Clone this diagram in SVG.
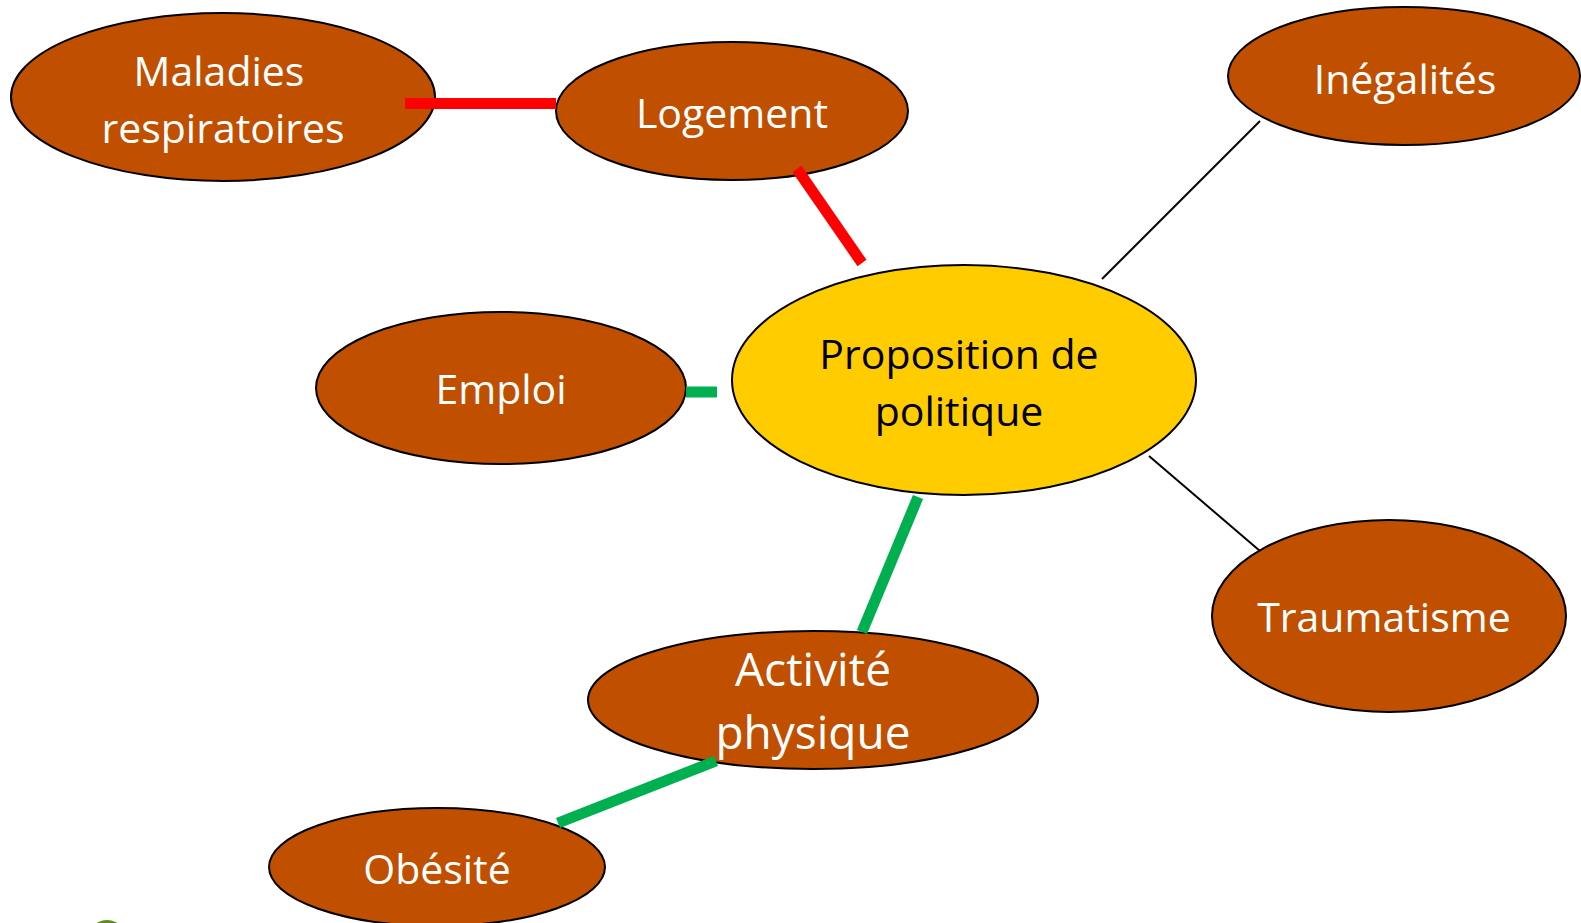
<svg xmlns="http://www.w3.org/2000/svg" width="1581" height="923" viewBox="0 0 1581 923">
<style>
.n{fill:#C04F00;stroke:#000;stroke-width:2}
.c{fill:#FFCC00;stroke:#000;stroke-width:2}
.t{font-family:"Open Sans","Noto Sans",sans-serif;font-size:41px;fill:#fff;text-anchor:middle}
.tc{fill:#000}
.big{font-size:46px}
.red{stroke:#FF0000;stroke-width:11;fill:none}
.grn{stroke:#00B050;stroke-width:11;fill:none}
.blk{stroke:#000;stroke-width:2;fill:none}
</style>
<rect width="1581" height="923" fill="#fff"/>
<ellipse cx="107" cy="945" rx="22" ry="25" fill="#5E8A22"/>
<g id="maladies"><ellipse class="n" cx="223" cy="97" rx="212" ry="84"/><text class="t" x="219" y="86">Maladies</text><text class="t" x="223" y="143">respiratoires</text></g>
<g id="logement"><ellipse class="n" cx="732" cy="111" rx="176" ry="69"/><text class="t" x="732" y="128">Logement</text></g>
<g id="inegalites"><ellipse class="n" cx="1404" cy="76" rx="176" ry="69"/><text class="t" x="1405" y="94">Inégalités</text></g>
<g id="emploi"><ellipse class="n" cx="501" cy="388" rx="185" ry="76"/><text class="t" x="501" y="404">Emploi</text></g>
<g id="proposition"><ellipse class="c" cx="964" cy="380" rx="232" ry="115"/><text class="t tc" x="959" y="369">Proposition de</text><text class="t tc" x="959" y="426">politique</text></g>
<g id="traumatisme"><ellipse class="n" cx="1389" cy="616" rx="177" ry="96"/><text class="t" x="1384" y="632">Traumatisme</text></g>
<g id="activite"><ellipse class="n" cx="813" cy="700" rx="225" ry="69"/><text class="t big" x="813" y="686">Activité</text><text class="t big" x="813" y="749">physique</text></g>
<g id="obesite"><ellipse class="n" cx="437" cy="867" rx="168" ry="59"/><text class="t" x="437" y="884">Obésité</text></g>
<g id="connectors">
<line class="red" x1="405" y1="103.5" x2="556" y2="103.5"/>
<line class="red" x1="797" y1="169" x2="862" y2="263"/>
<line class="grn" x1="686" y1="392" x2="717" y2="392"/>
<line class="grn" x1="918" y1="497" x2="862" y2="632"/>
<line class="grn" x1="716" y1="761" x2="558" y2="823"/>
<line class="blk" x1="1260" y1="121" x2="1102" y2="279"/>
<line class="blk" x1="1149" y1="456" x2="1260" y2="551"/>
</g>
</svg>
